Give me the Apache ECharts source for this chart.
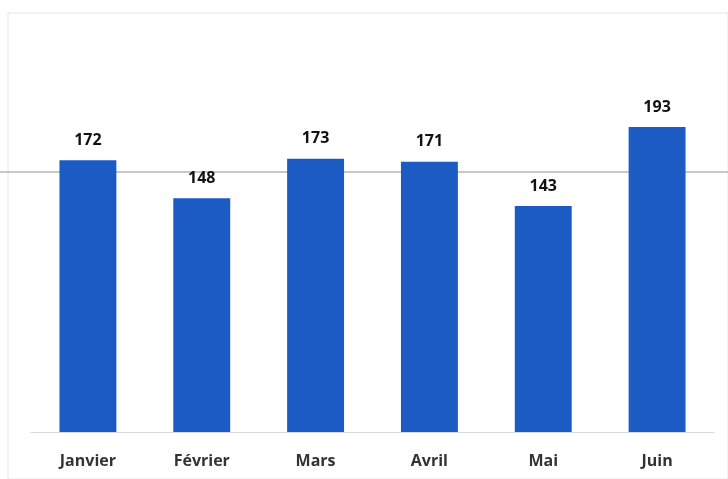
<!DOCTYPE html>
<html>
<head>
<meta charset="utf-8">
<script src="https://cdn.jsdelivr.net/npm/echarts@6/dist/echarts.min.js"></script>
<style>
  html, body { margin: 0; padding: 0; background: #fff; overflow: hidden; }
  #chart { width: 728px; height: 479px; }
</style>
</head>
<body>
<div id="chart"></div>
<script>
// données
const months = ['Janvier', 'Février', 'Mars', 'Avril', 'Mai', 'Juin']
const values = [172, 148, 173, 171, 143, 193]
const refLine = 165

var myChart = echarts.init(document.getElementById('chart'))

var option = {
  animation: false,
  grid: [
    { left: 31, right: 14, top: 37, bottom: 47 },
    // ligne de référence sur toute la largeur
    { left: 0, right: 0, top: 37, bottom: 47 },
    // cadre (bord haut + gauche)
    { left: 8, right: -30, top: 13, bottom: -30, show: true, borderColor: '#e6e6e6', borderWidth: 1 }
  ],
  xAxis: [
    {
      type: 'category',
      gridIndex: 0,
      data: months,
      axisLine: { lineStyle: { color: '#d9d9d9', width: 1 } },
      axisTick: { show: false },
      axisLabel: {
        margin: 21,
        color: '#333',
        fontSize: 16,
        fontWeight: 'bold',
        fontFamily: 'Open Sans'
      }
    },
    { type: 'category', gridIndex: 1, data: months, show: false },
    { type: 'category', gridIndex: 2, data: months, show: false }
  ],
  yAxis: [
    { type: 'value', gridIndex: 0, min: 0, max: 250, show: false },
    { type: 'value', gridIndex: 1, min: 0, max: 250, show: false },
    { type: 'value', gridIndex: 2, min: 0, max: 250, show: false }
  ],
  series: [
    {
      type: 'bar',
      xAxisIndex: 0,
      yAxisIndex: 0,
      data: values,
      barWidth: '50%',
      itemStyle: { color: '#1C5AC4' },
      label: {
        show: true,
        position: 'top',
        distance: 12,
        color: '#111',
        fontSize: 16,
        fontWeight: 'bold',
        fontFamily: 'Open Sans'
      },
      z: 3
    },
    {
      type: 'line',
      xAxisIndex: 1,
      yAxisIndex: 1,
      data: [],
      silent: true,
      z: 1,
      markLine: {
        z: 1,
        symbol: 'none',
        silent: true,
        label: { show: false },
        lineStyle: { color: '#c8c8c8', type: 'solid', width: 2 },
        data: [{ yAxis: refLine }]
      }
    }
  ]
}

myChart.setOption(option)
</script>
</body>
</html>
